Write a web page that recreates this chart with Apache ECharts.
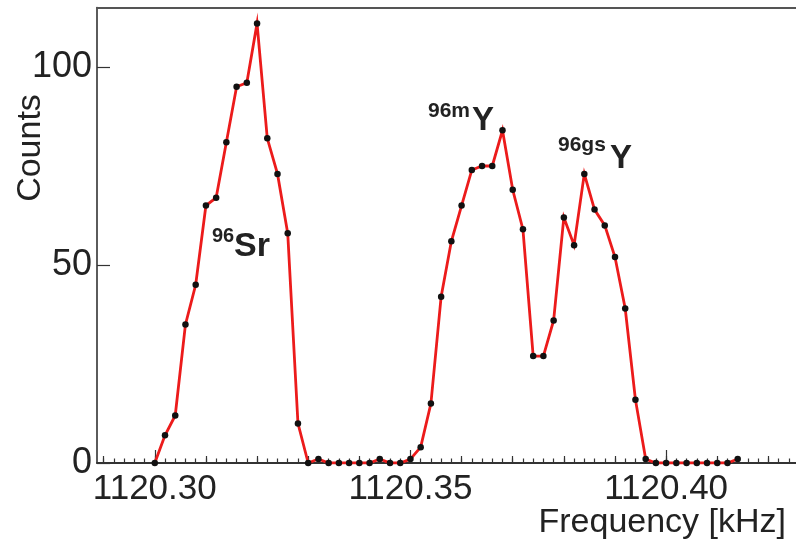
<!DOCTYPE html>
<html>
<head>
<meta charset="utf-8">
<script src="https://cdn.jsdelivr.net/npm/echarts@6/dist/echarts.min.js"></script>
<style>
  html, body { margin: 0; padding: 0; background: #fff; }
  #chart { width: 796px; height: 539px; }
</style>
</head>
<body>
<div id="chart"></div>
<script>
// Time-of-flight resonance scan: counts per frequency step
const frequency = [
  1120.300, 1120.302, 1120.304, 1120.306, 1120.308, 1120.310, 1120.312, 1120.314,
  1120.316, 1120.318, 1120.320, 1120.322, 1120.324, 1120.326, 1120.328, 1120.330,
  1120.332, 1120.334, 1120.336, 1120.338, 1120.340, 1120.342, 1120.344, 1120.346,
  1120.348, 1120.350, 1120.352, 1120.354, 1120.356, 1120.358, 1120.360, 1120.362,
  1120.364, 1120.366, 1120.368, 1120.370, 1120.372, 1120.374, 1120.376, 1120.378,
  1120.380, 1120.382, 1120.384, 1120.386, 1120.388, 1120.390, 1120.392, 1120.394,
  1120.396, 1120.398, 1120.400, 1120.402, 1120.404, 1120.406, 1120.408, 1120.410,
  1120.412, 1120.414
];
const counts = [
  0, 7, 12, 35, 45, 65, 67, 81,
  95, 96, 111, 82, 73, 58, 10, 0,
  1, 0, 0, 0, 0, 0, 1, 0,
  0, 1, 4, 15, 42, 56, 65, 74,
  75, 75, 84, 69, 59, 27, 27, 36,
  62, 55, 73, 64, 60, 52, 39, 16,
  1, 0, 0, 0, 0, 0, 0, 0,
  0, 1
];

// Axis decoration
const freqLabels = [1120.30, 1120.35, 1120.40];
const freqMediumTicks = [1120.29, 1120.30, 1120.31, 1120.32, 1120.33, 1120.34, 1120.35,
                         1120.36, 1120.37, 1120.38, 1120.39, 1120.40, 1120.41, 1120.42];
const countLabels = [0, 50, 100];

const X_MIN = 1120.2887, X_MAX = 1120.4254;
const Y_MIN = 0, Y_MAX = 115;

const freqSmallTicks = [];
for (let k = 0; k <= 67; k++) freqSmallTicks.push(+(1120.290 + 0.002 * k).toFixed(3));

const FONT = '"Liberation Sans", Arial, Helvetica, sans-serif';
const INK = '#222';

const chart = echarts.init(document.getElementById('chart'), null, { renderer: 'canvas' });

function tickAxis(values, len, pos) {
  return {
    type: 'value', position: pos, min: X_MIN, max: X_MAX,
    axisLine: { show: false },
    axisTick: { show: true, inside: true, length: len, customValues: values,
                lineStyle: { color: '#333', width: 1.2 } },
    axisLabel: { show: false },
    splitLine: { show: false }
  };
}

chart.setOption({
  animation: false,
  backgroundColor: '#fff',
  grid: { left: 97, right: -5, top: 7.6, bottom: 76, containLabel: false },
  xAxis: [
    {
      type: 'value', position: 'bottom', min: X_MIN, max: X_MAX,
      axisLine: { show: true, lineStyle: { color: '#333', width: 2 } },
      axisTick: { show: true, inside: true, length: 13, customValues: freqLabels,
                  lineStyle: { color: '#333', width: 1.2 } },
      axisLabel: { show: true, customValues: freqLabels, margin: 9,
                   formatter: v => v.toFixed(2),
                   fontFamily: FONT, fontSize: 35, color: INK },
      splitLine: { show: false }
    },
    tickAxis(freqMediumTicks, 7, 'bottom'),
    tickAxis(freqSmallTicks, 4.5, 'bottom'),
    {
      type: 'value', position: 'top', min: X_MIN, max: X_MAX,
      axisLine: { show: true, lineStyle: { color: '#555', width: 2 } },
      axisTick: { show: false }, axisLabel: { show: false }, splitLine: { show: false }
    }
  ],
  yAxis: {
    type: 'value', min: Y_MIN, max: Y_MAX,
    axisLine: { show: true, lineStyle: { color: '#333', width: 1.6 } },
    axisTick: { show: true, inside: true, length: 13, customValues: countLabels,
                lineStyle: { color: '#333', width: 1.2 } },
    axisLabel: { show: true, customValues: countLabels, margin: 5,
                 fontFamily: FONT, fontSize: 36, color: INK },
    splitLine: { show: false }
  },
  series: [{
    type: 'line',
    xAxisIndex: 0,
    data: frequency.map((f, i) => [f, counts[i]]),
    symbol: 'circle',
    symbolSize: 6.5,
    itemStyle: { color: '#111' },
    lineStyle: { color: '#ec1b1b', width: 2.8, join: 'miter', miterLimit: 10 },
    smooth: false
  }],
  graphic: [
    { type: 'text', x: 30.5, y: 148, rotation: Math.PI / 2,
      style: { text: 'Counts', font: '34px ' + FONT, fill: INK, align: 'center', verticalAlign: 'middle' } },
    { type: 'text', x: 786, y: 523,
      style: { text: 'Frequency [kHz]', font: '34px ' + FONT, fill: INK, align: 'right', verticalAlign: 'middle' } },

    { type: 'text', x: 212, y: 236,
      style: { text: '96', font: 'bold 20px ' + FONT, fill: INK, align: 'left', verticalAlign: 'middle' } },
    { type: 'text', x: 234, y: 247,
      style: { text: 'Sr', font: 'bold 34px ' + FONT, fill: INK, align: 'left', verticalAlign: 'middle' } },

    { type: 'text', x: 428, y: 111,
      style: { text: '96m', font: 'bold 21px ' + FONT, fill: INK, align: 'left', verticalAlign: 'middle' } },
    { type: 'text', x: 472, y: 121,
      style: { text: 'Y', font: 'bold 33px ' + FONT, fill: INK, align: 'left', verticalAlign: 'middle' } },

    { type: 'text', x: 558, y: 145,
      style: { text: '96gs', font: 'bold 21px ' + FONT, fill: INK, align: 'left', verticalAlign: 'middle' } },
    { type: 'text', x: 610, y: 159,
      style: { text: 'Y', font: 'bold 33px ' + FONT, fill: INK, align: 'left', verticalAlign: 'middle' } }
  ]
});
</script>
</body>
</html>
